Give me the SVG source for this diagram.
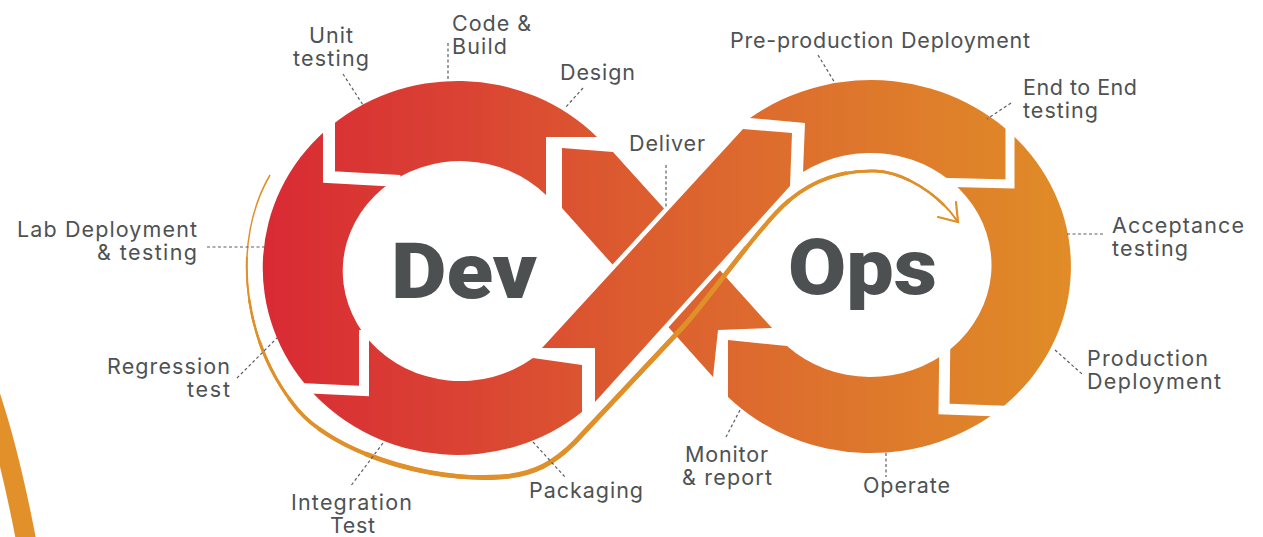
<svg xmlns="http://www.w3.org/2000/svg" width="1263" height="537" viewBox="0 0 1263 537">
<defs>
<linearGradient id="bandg" gradientUnits="userSpaceOnUse" x1="263" y1="0" x2="1071" y2="0">
<stop offset="0" stop-color="#d92a34"/>
<stop offset="0.25" stop-color="#da4333"/>
<stop offset="0.45" stop-color="#dc5b2f"/>
<stop offset="0.6" stop-color="#dd6a2e"/>
<stop offset="0.8" stop-color="#de7c2b"/>
<stop offset="1" stop-color="#e08c27"/>
</linearGradient>
<style>
.lbl{font-family:Inter,"Noto Sans","Liberation Sans",sans-serif;font-size:21.5px;fill:#4e5253}
.big{font-family:Roboto,Inter,"Liberation Sans",sans-serif;font-weight:900;font-size:78px;fill:#4c5051}
.lead{fill:none;stroke:#5a5e60;stroke-width:1.2;stroke-dasharray:3 2.5}
.cut{fill:none;stroke:#fff;stroke-linejoin:miter;stroke-linecap:butt}
.band{fill:url(#bandg)}
.flow{fill:none;stroke:#e0902a;stroke-linecap:butt}
</style>
</defs>

<path id="deco-arc" d="M-10,395 Q10,455 27,545" fill="none" stroke="#e2912a" stroke-width="20"/>

<g id="ring-dev">
<path class="band" d="M597,137 A195,187 0 1 0 582,412 L582,365 L533,358 A118,110 0 1 1 546,195 L546,137 Z"/>
</g>
<g id="ring-ops">
<path class="band" d="M750,118 A200,186.5 0 1 1 728,397 L728,340 L787,346 A121,112 0 1 0 803,172 L805,123 Z"/>
</g>
<g id="design-monitor">
<polygon class="band" points="562,148 613,152 772,328 718,330 713,377 562,208"/>
</g>
<g id="deliver-bar">
<polygon class="band" points="743,129 792,133 790,186 595,402 595,348 542,348" stroke="#fff" stroke-width="9" stroke-linejoin="round" paint-order="stroke"/>
</g>
<g id="cuts">
<polyline class="cut" stroke-width="12" points="329,95 329,177 400,181"/>
<polyline class="cut" stroke-width="10" points="300,388 364,391 364,330"/>
<polyline class="cut" stroke-width="9" points="1010,105 1010,184 930,182"/>
<polyline class="cut" stroke-width="11" points="945,330 944,409 1025,412"/>
</g>

<g id="flow-arrow">
<path class="flow" pathLength="100" stroke-width="1.5" d="M270,175 C232,240 240,340 298,410 C330,448 420,482 500,477 C535,475 555,462 575,442 L683,327 C705,303 742,250 775,214 C808,178 845,170 875,171 C905,172 940,195 958,222"/>
<path class="flow" pathLength="100" stroke-width="2" stroke-dasharray="0 8 92 0" d="M270,175 C232,240 240,340 298,410 C330,448 420,482 500,477 C535,475 555,462 575,442 L683,327 C705,303 742,250 775,214 C808,178 845,170 875,171 C905,172 940,195 958,222"/>
<path class="flow" pathLength="100" stroke-width="2.5" stroke-dasharray="0 12 86 2" d="M270,175 C232,240 240,340 298,410 C330,448 420,482 500,477 C535,475 555,462 575,442 L683,327 C705,303 742,250 775,214 C808,178 845,170 875,171 C905,172 940,195 958,222"/>
<path class="flow" pathLength="100" stroke-width="3" stroke-dasharray="0 16 78 6" d="M270,175 C232,240 240,340 298,410 C330,448 420,482 500,477 C535,475 555,462 575,442 L683,327 C705,303 742,250 775,214 C808,178 845,170 875,171 C905,172 940,195 958,222"/>
<path class="flow" pathLength="100" stroke-width="3.6" stroke-dasharray="0 22 66 12" d="M270,175 C232,240 240,340 298,410 C330,448 420,482 500,477 C535,475 555,462 575,442 L683,327 C705,303 742,250 775,214 C808,178 845,170 875,171 C905,172 940,195 958,222"/>
<path class="flow" pathLength="100" stroke-width="4.2" stroke-dasharray="0 26 56 18" d="M270,175 C232,240 240,340 298,410 C330,448 420,482 500,477 C535,475 555,462 575,442 L683,327 C705,303 742,250 775,214 C808,178 845,170 875,171 C905,172 940,195 958,222"/>
<path class="flow" pathLength="100" stroke-width="4.8" stroke-dasharray="0 31 45 24" d="M270,175 C232,240 240,340 298,410 C330,448 420,482 500,477 C535,475 555,462 575,442 L683,327 C705,303 742,250 775,214 C808,178 845,170 875,171 C905,172 940,195 958,222"/>
<polyline points="938,217 958,222 956,202" fill="none" stroke="#e0902a" stroke-width="2.2" stroke-linecap="round" stroke-linejoin="miter"/>
</g>

<g id="leaders">
<line class="lead" x1="343" y1="74" x2="363" y2="105"/>
<line class="lead" x1="448" y1="43" x2="448" y2="82"/>
<line class="lead" x1="583" y1="88" x2="565" y2="108"/>
<line class="lead" x1="666" y1="165" x2="666" y2="208"/>
<line class="lead" x1="818" y1="55" x2="835" y2="83"/>
<line class="lead" x1="1011" y1="103" x2="987" y2="119"/>
<line class="lead" x1="1067" y1="234" x2="1103" y2="234"/>
<line class="lead" x1="1055" y1="350" x2="1082" y2="374"/>
<line class="lead" x1="740" y1="410" x2="726" y2="437"/>
<line class="lead" x1="886" y1="453" x2="886" y2="477"/>
<line class="lead" x1="533" y1="442" x2="565" y2="477"/>
<line class="lead" x1="383" y1="443" x2="350" y2="487"/>
<line class="lead" x1="278" y1="337" x2="236" y2="379"/>
<line class="lead" x1="207" y1="247" x2="265" y2="247"/>
</g>

<g id="title-dev"><text class="big" x="391" y="298" textLength="146" lengthAdjust="spacingAndGlyphs">Dev</text></g>
<g id="title-ops"><text class="big" x="788" y="294" textLength="149" lengthAdjust="spacingAndGlyphs">Ops</text></g>

<g id="lbl-unit"><text class="lbl" x="309" y="43" textLength="44">Unit</text><text class="lbl" x="293" y="66" textLength="76">testing</text></g>
<g id="lbl-code"><text class="lbl" x="452" y="31" textLength="79">Code &amp;</text><text class="lbl" x="452" y="54" textLength="55">Build</text></g>
<g id="lbl-design"><text class="lbl" x="560" y="80" textLength="75">Design</text></g>
<g id="lbl-deliver"><text class="lbl" x="629" y="151" textLength="76">Deliver</text></g>
<g id="lbl-preprod"><text class="lbl" x="730" y="48" textLength="300">Pre-production Deployment</text></g>
<g id="lbl-e2e"><text class="lbl" x="1023" y="95" textLength="114">End to End</text><text class="lbl" x="1023" y="118" textLength="75">testing</text></g>
<g id="lbl-accept"><text class="lbl" x="1112" y="233" textLength="132">Acceptance</text><text class="lbl" x="1112" y="256" textLength="76">testing</text></g>
<g id="lbl-prod"><text class="lbl" x="1087" y="366" textLength="121">Production</text><text class="lbl" x="1087" y="389" textLength="134">Deployment</text></g>
<g id="lbl-monitor"><text class="lbl" x="685" y="462" textLength="83">Monitor</text><text class="lbl" x="682" y="485" textLength="90">&amp; report</text></g>
<g id="lbl-operate"><text class="lbl" x="863" y="493" textLength="87">Operate</text></g>
<g id="lbl-packaging"><text class="lbl" x="529" y="498" textLength="114">Packaging</text></g>
<g id="lbl-integration"><text class="lbl" x="291" y="510" textLength="121">Integration</text><text class="lbl" x="330" y="533" textLength="45">Test</text></g>
<g id="lbl-regression"><text class="lbl" x="107" y="374" textLength="123">Regression</text><text class="lbl" x="187" y="397" textLength="43">test</text></g>
<g id="lbl-lab"><text class="lbl" x="17" y="237" textLength="180">Lab Deployment</text><text class="lbl" x="97" y="260" textLength="100">&amp; testing</text></g>
</svg>
